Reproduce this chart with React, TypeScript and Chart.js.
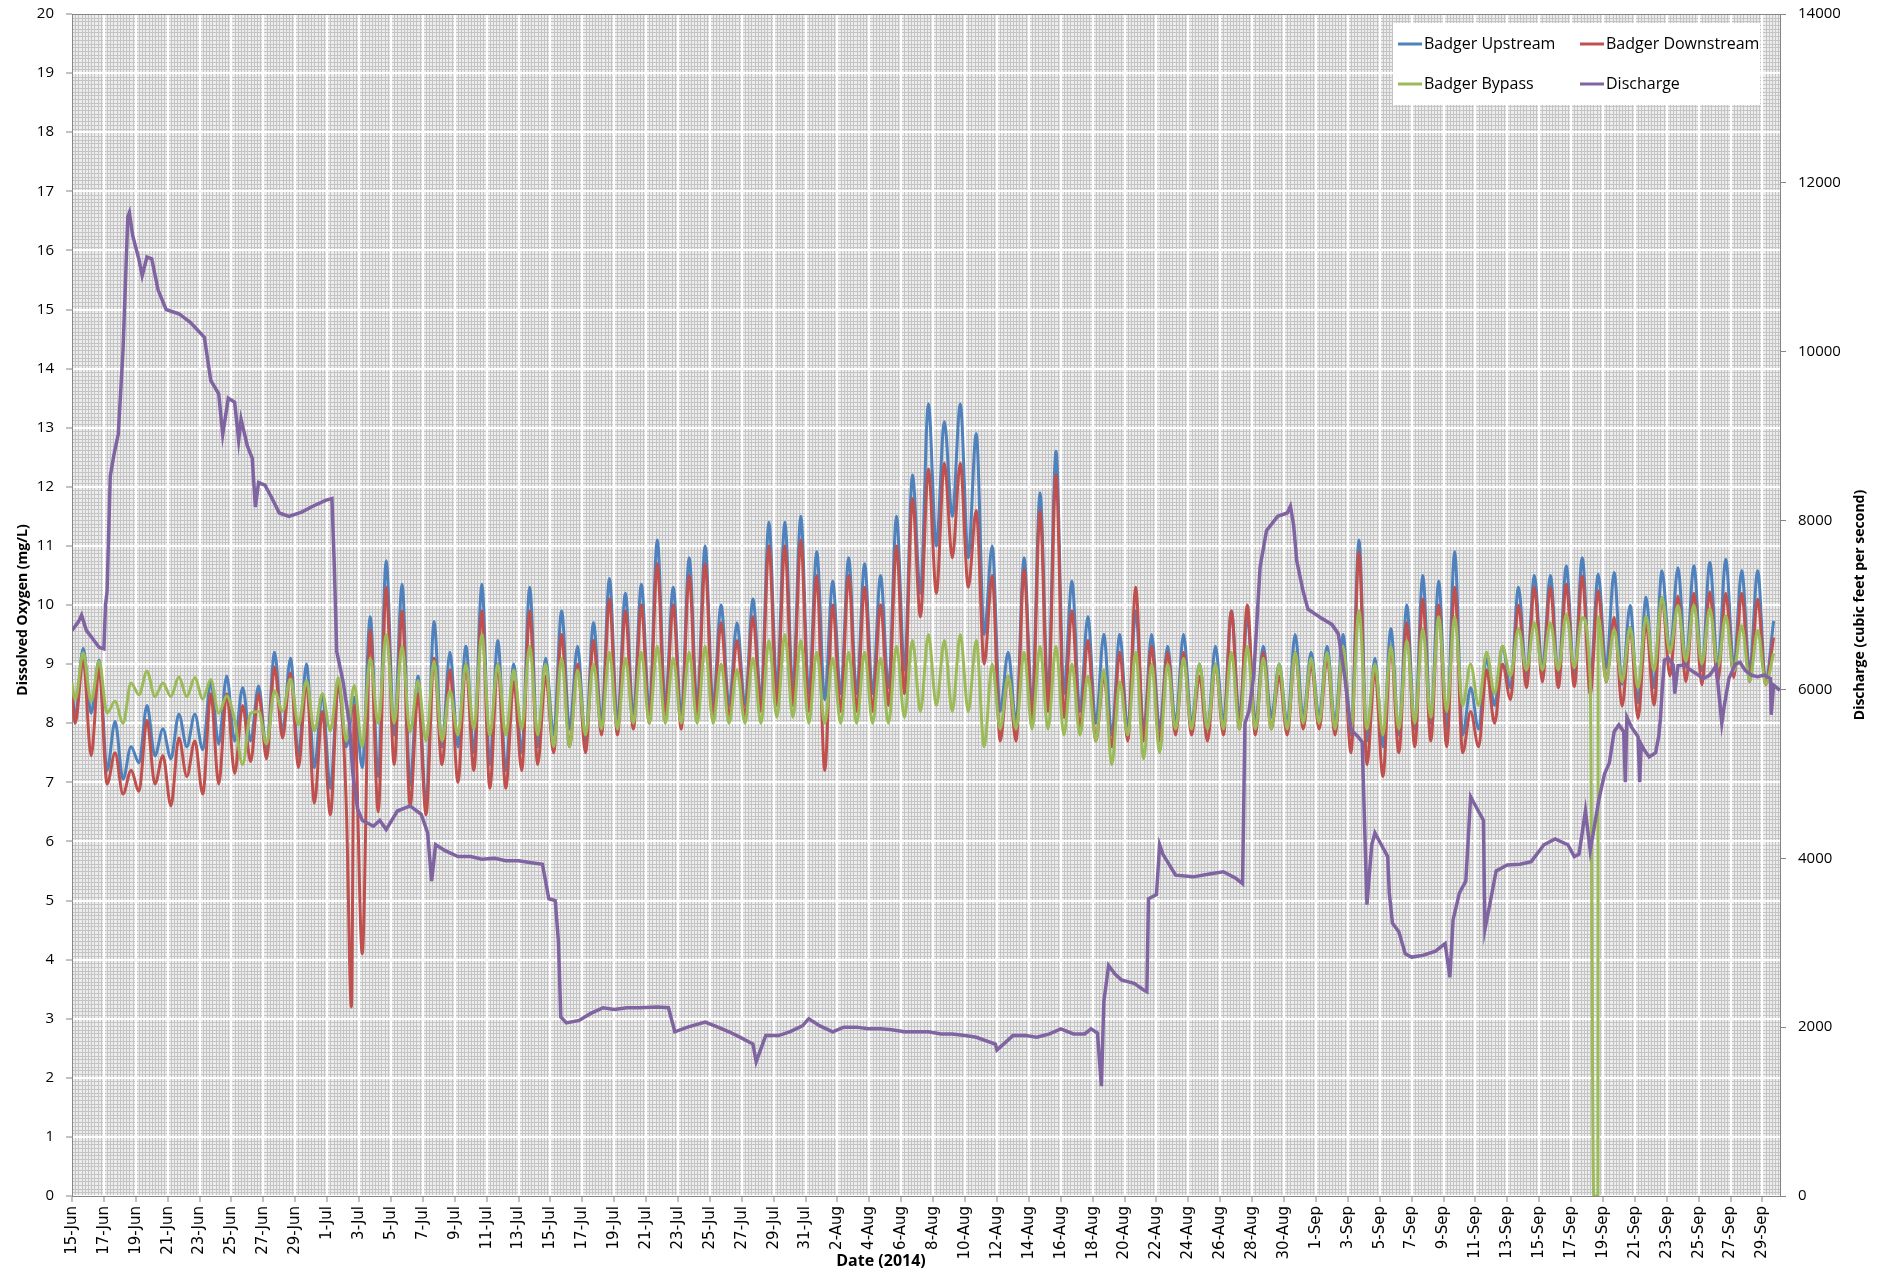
import React, { useEffect, useRef } from 'react';
import { Chart, registerables } from 'chart.js';

Chart.register(...registerables);

// ---------- DATA ----------
// Day index 0 = 15-Jun-2014. Values: morning (trough) and afternoon (peak) DO readings per day (mg/L)
const upstreamAM = [
  8.1, 8.17, 7.2, 7.05, 7.33, 7.45, 7.4, 7.6, 7.55, 7.65, 7.7, 7.7, 7.55, 7.85, 7.45, 7.25, 6.9, 7.6, 7.25, 7.1, 7.8, 6.95, 6.6, 7.6,
  7.6, 7.5, 7.3, 7.2, 7.5, 7.6, 7.8, 7.9, 7.7, 8.0, 8.0, 8.1, 8.2, 8.3, 8.1, 8.3, 8.3, 8.3, 8.3, 8.4, 8.6, 8.6, 8.5, 8.4,
  8.5, 8.5, 8.5, 8.6, 8.9, 10.2, 11.0, 11.5, 10.8, 9.5, 8.2, 8.0, 8.3, 8.5, 8.5, 8.2, 8.0, 7.8, 7.9, 7.9, 7.9, 8.0, 8.0, 7.9,
  8.0, 8.1, 8.0, 8.1, 8.0, 8.1, 8.1, 8.0, 7.8, 7.7, 7.6, 7.8, 7.9, 8.0, 7.9, 7.8, 7.9, 8.3, 8.6, 8.8, 8.9, 8.8, 8.77, 8.71,
  8.94, 8.66, 8.35, 8.6, 9.2, 9.0, 8.89, 8.94, 8.97, 8.89, 8.71,
];
const upstreamPM = [
  9.27, 9.07, 8.03, 7.6, 8.3, 7.9, 8.15, 8.15, 8.7, 8.8, 8.6, 8.63, 9.2, 9.1, 9.0, 8.5, 8.67, 8.44, 9.8, 10.75, 10.35, 8.8, 9.72, 9.2,
  9.3, 10.35, 9.4, 9.0, 10.3, 9.1, 9.9, 9.3, 9.7, 10.45, 10.2, 10.35, 11.1, 10.3, 10.8, 11.0, 10.0, 9.7, 10.1, 11.4, 11.4, 11.5, 10.9, 10.4,
  10.8, 10.7, 10.5, 11.5, 12.2, 13.4, 13.1, 13.4, 12.9, 11.0, 9.2, 10.8, 11.9, 12.6, 10.4, 9.8, 9.5, 9.5, 9.9, 9.5, 9.3, 9.5, 9.0, 9.3,
  9.9, 9.8, 9.3, 9.0, 9.5, 9.2, 9.3, 9.5, 11.1, 9.1, 9.6, 10.0, 10.5, 10.4, 10.9, 8.6, 9.1, 9.3, 10.3, 10.5, 10.5, 10.66, 10.8, 10.52,
  10.55, 9.99, 10.13, 10.58, 10.63, 10.66, 10.72, 10.77, 10.58, 10.58, 9.73,
];
const downstreamAM = [
  8.0, 7.45, 6.97, 6.8, 6.85, 6.97, 6.6, 7.1, 6.8, 6.97, 7.15, 7.35, 7.4, 7.75, 7.25, 6.65, 6.45, 6.6, 4.1, 6.5, 7.3, 6.6, 6.45, 7.3,
  7.0, 7.2, 6.9, 6.9, 7.2, 7.3, 7.5, 7.6, 7.5, 7.8, 7.8, 7.9, 8.0, 8.1, 7.9, 8.1, 8.1, 8.1, 8.1, 8.2, 8.3, 8.3, 8.2, 7.2,
  8.2, 8.2, 8.2, 8.3, 8.5, 9.8, 10.2, 10.8, 10.3, 9.0, 7.7, 7.7, 8.0, 8.2, 8.1, 7.9, 7.7, 7.6, 7.7, 7.7, 7.7, 7.8, 7.8, 7.7,
  7.8, 7.9, 7.8, 7.9, 7.8, 7.9, 7.9, 7.8, 7.5, 7.3, 7.1, 7.5, 7.6, 7.7, 7.6, 7.5, 7.6, 8.0, 8.4, 8.6, 8.7, 8.6, 8.62, 8.49,
  8.7, 8.29, 8.08, 8.31, 8.8, 8.7, 8.65, 8.7, 8.77, 8.7, 8.65,
];
const downstreamPM = [
  9.07, 8.93, 7.5, 7.2, 8.05, 7.45, 7.75, 7.7, 8.5, 8.5, 8.3, 8.5, 8.95, 8.85, 8.7, 8.2, 8.67, 8.3, 9.57, 10.3, 9.9, 8.5, 9.1, 8.9,
  9.0, 9.9, 9.0, 8.7, 9.9, 8.8, 9.5, 9.0, 9.4, 10.1, 9.9, 10.0, 10.7, 10.0, 10.5, 10.7, 9.7, 9.4, 9.8, 11.0, 11.0, 11.1, 10.5, 10.0,
  10.5, 10.3, 10.0, 11.0, 11.8, 12.3, 12.4, 12.4, 11.6, 10.5, 8.8, 10.6, 11.6, 12.2, 9.9, 9.4, 8.8, 9.2, 10.3, 9.3, 9.2, 9.2, 8.8, 9.0,
  9.9, 10.0, 9.2, 8.8, 9.2, 9.0, 9.1, 9.2, 10.9, 8.9, 9.3, 9.7, 10.1, 10.0, 10.3, 8.2, 8.9, 9.0, 10.0, 10.3, 10.3, 10.35, 10.49, 10.24,
  9.79, 9.62, 9.7, 10.13, 10.15, 10.2, 10.22, 10.2, 10.2, 10.1, 9.45,
];
const bypassAM = [
  8.4, 8.37, 8.17, 8.0, 8.48, 8.45, 8.45, 8.45, 8.41, 8.17, 8.05, 8.17, 7.65, 8.2, 7.97, 7.87, 7.87, 7.7, 7.6, 8.0, 8.0, 7.85, 7.7, 7.7,
  7.8, 7.9, 7.8, 7.8, 7.9, 7.8, 7.6, 7.6, 7.8, 7.9, 7.9, 8.0, 8.0, 8.0, 8.0, 8.0, 8.0, 8.0, 8.0, 8.0, 8.1, 8.1, 8.0, 8.0,
  8.0, 8.0, 8.0, 8.0, 8.1, 8.2, 8.3, 8.2, 8.2, 7.6, 7.9, 7.9, 7.9, 7.9, 7.8, 7.8, 7.7, 7.3, 7.8, 7.4, 7.5, 7.9, 7.9, 7.9,
  7.9, 7.9, 7.9, 7.9, 7.9, 8.0, 8.0, 7.9, 7.9, 7.9, 7.8, 7.9, 8.0, 8.1, 8.2, 8.3, 8.3, 8.5, 8.8, 8.9, 8.9, 8.9, 8.94, 8.71,
  8.71, 8.7, 8.6, 8.89, 9.2, 9.05, 9.0, 8.95, 8.88, 8.71, 8.66,
];
const bypassPM = [
  9.19, 9.05, 8.37, 8.68, 8.88, 8.68, 8.78, 8.77, 8.74, 8.46, 7.3, 8.2, 8.55, 8.75, 8.72, 8.5, 8.77, 8.64, 9.1, 9.5, 9.3, 8.72, 9.05, 8.55,
  9.0, 9.5, 9.0, 8.9, 9.3, 9.0, 9.1, 8.9, 9.0, 9.2, 9.1, 9.2, 9.3, 9.1, 9.2, 9.3, 9.0, 8.9, 9.1, 9.4, 9.5, 9.4, 9.2, 9.1,
  9.2, 9.2, 9.1, 9.3, 9.4, 9.5, 9.4, 9.5, 9.4, 9.0, 8.8, 9.2, 9.3, 9.3, 9.0, 8.8, 8.9, 8.7, 9.2, 9.0, 9.0, 9.1, 9.0, 9.0,
  9.2, 9.3, 9.1, 9.0, 9.2, 9.1, 9.2, 9.3, 9.9, 9.0, 9.3, 9.4, 9.6, 9.8, 9.8, 9.0, 9.2, 9.3, 9.6, 9.7, 9.7, 9.84, 9.79, 9.8,
  9.59, 9.62, 9.81, 10.13, 9.99, 10.0, 9.94, 9.82, 9.65, 9.57, 9.18,
];
// Isolated readings [day, mg/L] (start values and short excursions)
const upstreamExtra = [[0, 8.57]];
const downstreamExtra = [[0, 8.5], [17.52, 3.2]];
const bypassExtra = [[0, 8.68], [95.42, 0], [95.68, 0]];

// Discharge (cfs) readings: day offsets and values
const dischargeDays = [
  0, 0.4, 0.6, 0.9, 1.3, 1.7, 2.0, 2.1, 2.2, 2.4, 2.65, 2.9, 3.2, 3.5, 3.6, 3.8, 4.2, 4.4, 4.7, 5.0, 5.4, 5.9, 6.7, 7.4, 8.3, 8.7,
  9.2, 9.45, 9.8, 10.2, 10.45, 10.6, 11.0, 11.3, 11.5, 11.7, 12.1, 12.5, 13.0, 13.6, 14.4, 15.1, 15.9, 16.3, 16.45, 16.6, 17.0,
  17.4, 17.6, 17.9, 18.2, 18.9, 19.3, 19.7, 20.4, 21.2, 21.9, 22.3, 22.55, 22.8, 23.4, 24.2, 25.0, 25.7, 26.5, 27.2, 28.0, 28.7,
  29.5, 29.9, 30.3, 30.5, 30.65, 31.0, 31.8, 32.5, 33.3, 34.0, 34.8, 35.6, 36.7, 37.4, 37.8, 38.6, 39.7, 40.5, 41.2, 42.0, 42.7,
  42.9, 43.5, 44.3, 45.0, 45.8, 46.2, 46.9, 47.7, 48.4, 49.2, 49.9, 50.7, 51.4, 52.2, 53.0, 53.7, 54.5, 55.2, 56.0, 56.7, 57.9,
  58.0, 59.0, 59.8, 60.5, 61.3, 62.0, 62.8, 63.5, 63.9, 64.3, 64.55, 64.7, 65.0, 65.4, 65.8, 66.6, 67.2, 67.4, 67.5, 68.0, 68.2,
  68.4, 69.2, 70.3, 71.5, 72.2, 73.0, 73.4, 73.55, 73.8, 74.1, 74.5, 74.9, 75.6, 76.2, 76.4, 76.6, 76.8, 77.2, 77.5, 78.3, 79.0,
  79.4, 79.8, 80.2, 80.6, 80.9, 81.2, 81.5, 81.7, 82.1, 82.5, 82.6, 82.8, 83.2, 83.6, 84.0, 84.7, 85.5, 86.1, 86.4, 86.6, 87.0,
  87.4, 87.7, 88.1, 88.5, 88.6, 88.9, 89.3, 90.0, 90.8, 91.5, 92.3, 93.0, 93.8, 94.2, 94.5, 94.9, 95.2, 95.75, 96.1, 96.4, 96.7,
  97.0, 97.3, 97.4, 97.5, 97.8, 98.2, 98.3, 98.4, 98.6, 98.9, 99.3, 99.5, 99.6, 99.7, 99.85, 100.1, 100.4, 100.5, 100.7, 101.1,
  101.5, 101.9, 102.3, 102.7, 103.1, 103.45, 103.6, 103.9, 104.3, 104.6, 104.9, 105.3, 105.7, 106.1, 106.5, 106.55, 106.7, 107.1,
];
const dischargeValues = [
  6700, 6800, 6880, 6700, 6600, 6500, 6480, 7000, 7160, 8530, 8800, 9020, 10020, 11600, 11650, 11380, 11090, 10900, 11120, 11100,
  10730, 10500, 10450, 10350, 10170, 9660, 9500, 9020, 9450, 9400, 8950, 9200, 8880, 8740, 8160, 8450, 8420, 8280, 8090, 8050,
  8100, 8170, 8240, 8260, 7450, 6450, 6090, 5590, 5020, 4590, 4450, 4380, 4450, 4340, 4560, 4620, 4520, 4300, 3730, 4160, 4090,
  4020, 4020, 3990, 4000, 3970, 3970, 3950, 3930, 3520, 3500, 3020, 2120, 2050, 2080, 2160, 2230, 2210, 2230, 2230, 2240, 2230,
  1945, 2000, 2060, 2000, 1945, 1870, 1800, 1590, 1900, 1900, 1945, 2015, 2100, 2015, 1945, 2000, 2000, 1980, 1980, 1970, 1945,
  1945, 1945, 1920, 1920, 1900, 1880, 1800, 1730, 1900, 1900, 1880, 1920, 1980, 1920, 1920, 1980, 1930, 1300, 2300, 2730, 2630,
  2560, 2520, 2440, 2420, 3520, 3570, 4160, 4050, 3800, 3780, 3820, 3840, 3760, 3700, 5600, 5740, 6160, 7450, 7880, 8050, 8090,
  8170, 7950, 7520, 7160, 6950, 6850, 6770, 6660, 6160, 5520, 5450, 5380, 3450, 4160, 4300, 4160, 4020, 3590, 3230, 3130, 2870,
  2830, 2850, 2900, 2990, 2590, 3270, 3590, 3730, 4730, 4590, 4450, 3160, 3450, 3850, 3920, 3930, 3960, 4160, 4230, 4160, 4020,
  4050, 4560, 4090, 4700, 5000, 5130, 5500, 5580, 5500, 4900, 5670, 5550, 5440, 4900, 5350, 5280, 5200, 5250, 5450, 5650, 5960,
  6350, 6370, 6290, 5950, 6280, 6290, 6230, 6180, 6130, 6170, 6280, 5600, 5800, 6130, 6300, 6320, 6230, 6170, 6150, 6170, 6130,
  5700, 6050, 5990,
];

const doTicks = [0, 20, 1];
const qTicks = [0, 14000, 2000];
const MONTHS = ['Jan', 'Feb', 'Mar', 'Apr', 'May', 'Jun', 'Jul', 'Aug', 'Sep', 'Oct', 'Nov', 'Dec'];
const LAST_DAY = 107.1;

function buildDiel(am: number[], pm: number[], extra: number[][]) {
  const pts: { x: number; y: number }[] = [];
  am.forEach((v, i) => {
    pts.push({ x: i + 0.2, y: v });
    pts.push({ x: i + 0.7, y: pm[i] });
  });
  extra.forEach(([x, y]) => pts.push({ x, y }));
  pts.sort((a, b) => a.x - b.x);
  return pts;
}

const dayLabel = (v: number) => {
  const d = new Date(2014, 5, 15 + Math.round(v));
  return `${d.getDate()}-${MONTHS[d.getMonth()]}`;
};

const FONT = "'Open Sans', 'DejaVu Sans', sans-serif";

const backgroundPlugin = {
  id: 'bgMinorGrid',
  beforeDraw(chart: any) {
    const { ctx, chartArea } = chart;
    const { left, top, right, bottom } = chartArea;
    const x = chart.scales.x;
    const y = chart.scales.y;
    ctx.save();
    ctx.fillStyle = '#ececec';
    ctx.fillRect(left, top, right - left, bottom - top);
    ctx.strokeStyle = '#c4c4c4';
    ctx.lineWidth = 1;
    ctx.beginPath();
    for (let i = 0; i * 0.2 <= LAST_DAY; i++) {
      const px = Math.round(x.getPixelForValue(i * 0.2)) + 0.5;
      ctx.moveTo(px, top);
      ctx.lineTo(px, bottom);
    }
    for (let i = 0; i <= 320; i++) {
      const py = Math.round(y.getPixelForValue(i / 16)) + 0.5;
      ctx.moveTo(left, py);
      ctx.lineTo(right, py);
    }
    ctx.stroke();
    ctx.restore();
  },
  afterDraw(chart: any) {
    const { ctx, chartArea } = chart;
    const { left, top, right, bottom } = chartArea;
    ctx.save();
    ctx.strokeStyle = '#868686';
    ctx.lineWidth = 1;
    ctx.beginPath();
    ctx.moveTo(left, top + 0.5);
    ctx.lineTo(right, top + 0.5);
    ctx.stroke();

    ctx.fillStyle = '#000';
    ctx.font = `bold 14px ${FONT}`;
    ctx.textAlign = 'center';
    ctx.textBaseline = 'middle';
    const cy = (top + bottom) / 2;
    ctx.save();
    ctx.translate(23, cy + 5);
    ctx.rotate(-Math.PI / 2);
    ctx.fillText('Dissolved Oxygen (mg/L)', 0, 0);
    ctx.restore();
    ctx.save();
    ctx.translate(1860, cy);
    ctx.rotate(-Math.PI / 2);
    ctx.fillText('Discharge (cubic feet per second)', 0, 0);
    ctx.restore();
    ctx.font = `bold 16px ${FONT}`;
    ctx.fillText('Date (2014)', 881, 1261);

    const lx = 1393, ly = 23, lw = 367, lh = 82;
    ctx.fillStyle = '#ffffff';
    ctx.fillRect(lx, ly, lw, lh);
    const items = [
      ['Badger Upstream', '#4F81BD', 1398, 44],
      ['Badger Downstream', '#C0504D', 1580, 44],
      ['Badger Bypass', '#9BBB59', 1398, 84],
      ['Discharge', '#8064A2', 1580, 84],
    ] as [string, string, number, number][];
    ctx.font = `16px ${FONT}`;
    ctx.textAlign = 'left';
    items.forEach(([label, color, ix, iy]) => {
      ctx.strokeStyle = color;
      ctx.lineWidth = 3;
      ctx.beginPath();
      ctx.moveTo(ix, iy);
      ctx.lineTo(ix + 24, iy);
      ctx.stroke();
      ctx.fillStyle = '#000';
      ctx.fillText(label, ix + 26, iy);
    });
    ctx.restore();
  },
};

export default function App() {
  const ref = useRef<HTMLCanvasElement>(null);
  useEffect(() => {
    document.body.style.margin = '0';
    const canvas = ref.current;
    if (!canvas) return;
    const chart = new Chart(canvas, {
      type: 'line',
      data: {
        datasets: [
          {
            label: 'Badger Upstream',
            data: buildDiel(upstreamAM, upstreamPM, upstreamExtra),
            borderColor: '#4F81BD',
            borderWidth: 3,
            pointRadius: 0,
            cubicInterpolationMode: 'monotone',
            yAxisID: 'y',
            order: 3,
          },
          {
            label: 'Badger Downstream',
            data: buildDiel(downstreamAM, downstreamPM, downstreamExtra),
            borderColor: '#C0504D',
            borderWidth: 3,
            pointRadius: 0,
            cubicInterpolationMode: 'monotone',
            yAxisID: 'y',
            order: 2,
          },
          {
            label: 'Badger Bypass',
            data: buildDiel(bypassAM, bypassPM, bypassExtra),
            borderColor: '#9BBB59',
            borderWidth: 3,
            pointRadius: 0,
            cubicInterpolationMode: 'monotone',
            yAxisID: 'y',
            order: 1,
          },
          {
            label: 'Discharge',
            data: dischargeDays.map((d, i) => ({ x: d, y: dischargeValues[i] })),
            borderColor: '#8064A2',
            borderWidth: 3.5,
            pointRadius: 0,
            tension: 0,
            yAxisID: 'y1',
            order: 0,
          },
        ],
      },
      options: {
        responsive: false,
        animation: false,
        events: [],
        layout: { padding: { top: 14, left: 0, right: 0, bottom: 0 } },
        plugins: { legend: { display: false }, tooltip: { enabled: false } },
        scales: {
          x: {
            type: 'linear',
            min: 0,
            max: LAST_DAY,
            afterBuildTicks: (scale: any) => {
              const t = [];
              for (let v = 0; v <= 106; v += 2) t.push({ value: v });
              scale.ticks = t;
            },
            afterFit: (scale: any) => {
              scale.height = 77;
              scale.paddingLeft = 0;
              scale.paddingRight = 0;
            },
            ticks: {
              autoSkip: false,
              minRotation: 90,
              maxRotation: 90,
              padding: 4,
              color: '#000',
              font: { family: "'DejaVu Sans', sans-serif", size: 15 },
              callback: (v: any) => dayLabel(Number(v)),
            },
            grid: { color: '#ffffff', lineWidth: 2, tickColor: '#868686', tickLength: 6, tickWidth: 1 },
            border: { color: '#868686', width: 1 },
          },
          y: {
            type: 'linear',
            position: 'left',
            min: doTicks[0],
            max: doTicks[1],
            afterFit: (scale: any) => {
              scale.width = 72;
              scale.paddingTop = 0;
              scale.paddingBottom = 0;
            },
            ticks: {
              stepSize: doTicks[2],
              padding: 12,
              color: '#000',
              font: { family: FONT, size: 15 },
            },
            grid: { color: '#ffffff', lineWidth: 2, tickColor: '#868686', tickLength: 6, tickWidth: 1 },
            border: { color: '#868686', width: 1 },
          },
          y1: {
            type: 'linear',
            position: 'right',
            min: qTicks[0],
            max: qTicks[1],
            afterFit: (scale: any) => {
              scale.width = 112;
              scale.paddingTop = 0;
              scale.paddingBottom = 0;
            },
            ticks: {
              stepSize: qTicks[2],
              padding: 12,
              color: '#000',
              font: { family: FONT, size: 15 },
              callback: (v: any) => String(v),
            },
            grid: { drawOnChartArea: false, tickColor: '#868686', tickLength: 6, tickWidth: 1 },
            border: { color: '#868686', width: 1 },
          },
        },
      },
      plugins: [backgroundPlugin],
    } as any);
    return () => chart.destroy();
  }, []);
  return <canvas ref={ref} width={1892} height={1273} style={{ display: 'block' }} />;
}
